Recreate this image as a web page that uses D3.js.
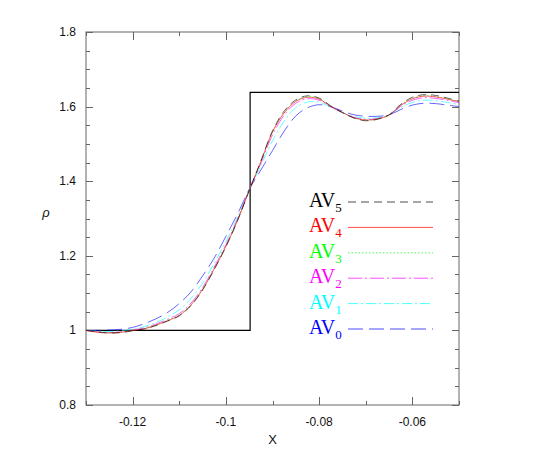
<!DOCTYPE html>
<html>
<head>
<meta charset="utf-8">
<script src="https://cdn.jsdelivr.net/npm/d3@7"></script>
<style>
body { margin: 0; background: #fff; }
text { font-family: "Liberation Sans", Arial, sans-serif; }
</style>
</head>
<body>
<div id="chart"></div>
<script>
// x grid shared by the six AV runs
var xs = [-0.130, -0.1275, -0.125, -0.1225, -0.120, -0.1175, -0.115, -0.1125, -0.110, -0.1075,
          -0.105, -0.1025, -0.100, -0.0975, -0.095, -0.0925, -0.090, -0.0875, -0.085, -0.0825,
          -0.080, -0.0775, -0.075, -0.0725, -0.070, -0.0675, -0.065, -0.0625, -0.060, -0.0575,
          -0.055, -0.0525, -0.050];

var av5 = [1.000, 0.996, 0.993, 0.994, 0.999, 1.004, 1.013, 1.025, 1.039, 1.066,
           1.108, 1.163, 1.224, 1.294, 1.375, 1.454, 1.535, 1.588, 1.618, 1.629,
           1.623, 1.602, 1.584, 1.569, 1.562, 1.566, 1.578, 1.606, 1.625, 1.632,
           1.630, 1.623, 1.615];
var av4 = [1.000, 0.995, 0.993, 0.995, 1.000, 1.004, 1.014, 1.026, 1.040, 1.068,
           1.110, 1.165, 1.225, 1.295, 1.375, 1.452, 1.532, 1.583, 1.614, 1.625,
           1.620, 1.600, 1.584, 1.570, 1.564, 1.567, 1.577, 1.603, 1.621, 1.628,
           1.626, 1.620, 1.613];
var av3 = [1.000, 0.996, 0.994, 0.995, 1.000, 1.005, 1.015, 1.027, 1.042, 1.069,
           1.111, 1.166, 1.226, 1.296, 1.376, 1.453, 1.532, 1.584, 1.615, 1.627,
           1.621, 1.601, 1.584, 1.570, 1.564, 1.567, 1.578, 1.604, 1.622, 1.629,
           1.627, 1.621, 1.614];
var av2 = [1.000, 0.996, 0.994, 0.996, 1.001, 1.007, 1.017, 1.030, 1.045, 1.073,
           1.115, 1.170, 1.230, 1.298, 1.377, 1.448, 1.524, 1.577, 1.609, 1.621,
           1.617, 1.600, 1.584, 1.571, 1.566, 1.568, 1.578, 1.601, 1.617, 1.624,
           1.622, 1.617, 1.610];
var av1 = [1.000, 0.998, 0.997, 0.999, 1.003, 1.010, 1.021, 1.036, 1.055, 1.085,
           1.127, 1.180, 1.238, 1.303, 1.377, 1.442, 1.508, 1.561, 1.597, 1.612,
           1.612, 1.598, 1.584, 1.573, 1.569, 1.570, 1.578, 1.598, 1.611, 1.617,
           1.616, 1.611, 1.606];
var av0 = [1.000, 1.000, 1.001, 1.003, 1.008, 1.018, 1.031, 1.048, 1.072, 1.103,
           1.146, 1.194, 1.252, 1.312, 1.378, 1.430, 1.482, 1.534, 1.575, 1.597,
           1.605, 1.600, 1.588, 1.578, 1.574, 1.574, 1.578, 1.592, 1.604, 1.609,
           1.608, 1.604, 1.600];

// exact solution (step)
var exactX = [-0.130, -0.0948, -0.0948, -0.050];
var exactRho = [1.000, 1.000, 1.638, 1.638];

var names = ["AV5", "AV4", "AV3", "AV2", "AV1", "AV0"];
var colors = ["#000000", "#ff0000", "#00ff00", "#ff00ff", "#00ffff", "#0000ff"];
var dashes = ["8,5", null, "1.5,2", "14,3,2,3", "10,3,2,3", "15,6"];
var series = [av5, av4, av3, av2, av1, av0];

var xTicks = [-0.12, -0.1, -0.08, -0.06];
var xMinor = [-0.13, -0.11, -0.09, -0.07, -0.05];
var yTicks = [0.8, 1, 1.2, 1.4, 1.6, 1.8];
var yMinor = [0.85, 0.9, 0.95, 1.05, 1.1, 1.15, 1.25, 1.3, 1.35, 1.45, 1.5, 1.55, 1.65, 1.7, 1.75];

var width = 556, height = 465;
var margin = {top: 32, right: 97, bottom: 60, left: 86};

var svg = d3.select("#chart").append("svg")
    .attr("width", width)
    .attr("height", height);

var x = d3.scaleLinear().domain([-0.13, -0.05]).range([margin.left, width - margin.right]);
var y = d3.scaleLinear().domain([0.8, 1.8]).range([height - margin.bottom, margin.top]);

var frameColor = "#666";

// ticks, all pointing inward
function tickSet(vals, len, cls) {
    var g = svg.append("g").attr("class", cls).attr("stroke", frameColor).attr("stroke-width", 1);
    vals.forEach(function(v){
        var px = Math.round(x(v)) + 0.5;
        g.append("line").attr("x1", px).attr("x2", px).attr("y1", y(0.8)).attr("y2", y(0.8) - len);
        g.append("line").attr("x1", px).attr("x2", px).attr("y1", y(1.8)).attr("y2", y(1.8) + len);
    });
}
function yTickSet(vals, len) {
    var g = svg.append("g").attr("stroke", frameColor).attr("stroke-width", 1);
    vals.forEach(function(v){
        var py = Math.round(y(v)) + 0.5;
        g.append("line").attr("x1", x(-0.13)).attr("x2", x(-0.13) + len).attr("y1", py).attr("y2", py);
        g.append("line").attr("x1", x(-0.05)).attr("x2", x(-0.05) - len).attr("y1", py).attr("y2", py);
    });
}
tickSet(xTicks, 8, "xmajor");
tickSet(xMinor, 4, "xminor");
yTickSet(yTicks, 7);
yTickSet(yMinor, 4);

svg.append("rect")
    .attr("x", x(-0.13)).attr("y", y(1.8))
    .attr("width", x(-0.05) - x(-0.13))
    .attr("height", y(0.8) - y(1.8))
    .attr("fill", "none")
    .attr("stroke", frameColor)
    .attr("stroke-width", 1);

// tick labels (plain hyphen minus like the original)
svg.append("g").selectAll("text")
    .data(xTicks).enter().append("text")
    .attr("x", function(d){ return x(d); })
    .attr("y", y(0.8) + 21)
    .attr("text-anchor", "middle")
    .attr("font-size", 12)
    .attr("fill", "#111")
    .text(function(d){ return String(d); });

svg.append("g").selectAll("text")
    .data(yTicks).enter().append("text")
    .attr("x", x(-0.13) - 10)
    .attr("y", function(d){ return y(d) + 4; })
    .attr("text-anchor", "end")
    .attr("font-size", 12)
    .attr("fill", "#111")
    .text(function(d){ return String(d); });

svg.append("text")
    .attr("x", (x(-0.13) + x(-0.05)) / 2)
    .attr("y", height - 21)
    .attr("text-anchor", "middle")
    .attr("font-size", 13)
    .attr("fill", "#111")
    .text("X");

svg.append("text")
    .attr("x", 46)
    .attr("y", 217)
    .attr("text-anchor", "middle")
    .attr("font-size", 13)
    .attr("font-style", "italic")
    .attr("fill", "#111")
    .text("ρ");

// curves
svg.append("clipPath").attr("id", "clip")
    .append("rect")
    .attr("x", x(-0.13)).attr("y", y(1.8))
    .attr("width", x(-0.05) - x(-0.13))
    .attr("height", y(0.8) - y(1.8));

var plot = svg.append("g").attr("clip-path", "url(#clip)");

plot.append("path")
    .datum(exactX.map(function(d, i){ return [d, exactRho[i]]; }))
    .attr("fill", "none")
    .attr("stroke", "#000")
    .attr("stroke-width", 1.2)
    .attr("d", d3.line().x(function(d){ return x(d[0]); }).y(function(d){ return y(d[1]); }));

var line = d3.line()
    .curve(d3.curveCatmullRom)
    .x(function(d){ return x(d[0]); })
    .y(function(d){ return y(d[1]); });

for (var k = series.length - 1; k >= 0; k--) {
    plot.append("path")
        .datum(xs.map(function(d, i){ return [d, series[k][i]]; }))
        .attr("fill", "none")
        .attr("stroke", colors[k])
        .attr("stroke-width", 1)
        .attr("stroke-opacity", 0.6)
        .attr("stroke-dasharray", dashes[k])
        .attr("d", line);
}

// legend
var legend = svg.append("g").attr("transform", "translate(309,0)");
names.forEach(function(n, i){
    var ly = 202 + i * 25.4;
    var t = legend.append("text")
        .attr("x", 0)
        .attr("y", ly + 5)
        .attr("fill", colors[i])
        .attr("font-size", 20)
        .style("font-family", "'Liberation Serif', serif");
    t.append("tspan").text("AV");
    t.append("tspan").attr("dy", 5).attr("font-size", 13).text(n.slice(2));
    legend.append("line")
        .attr("x1", 39).attr("x2", 124)
        .attr("y1", ly).attr("y2", ly)
        .attr("stroke", colors[i])
        .attr("stroke-width", 1)
        .attr("stroke-opacity", 0.7)
        .attr("stroke-dasharray", dashes[i]);
});
</script>
</body>
</html>
